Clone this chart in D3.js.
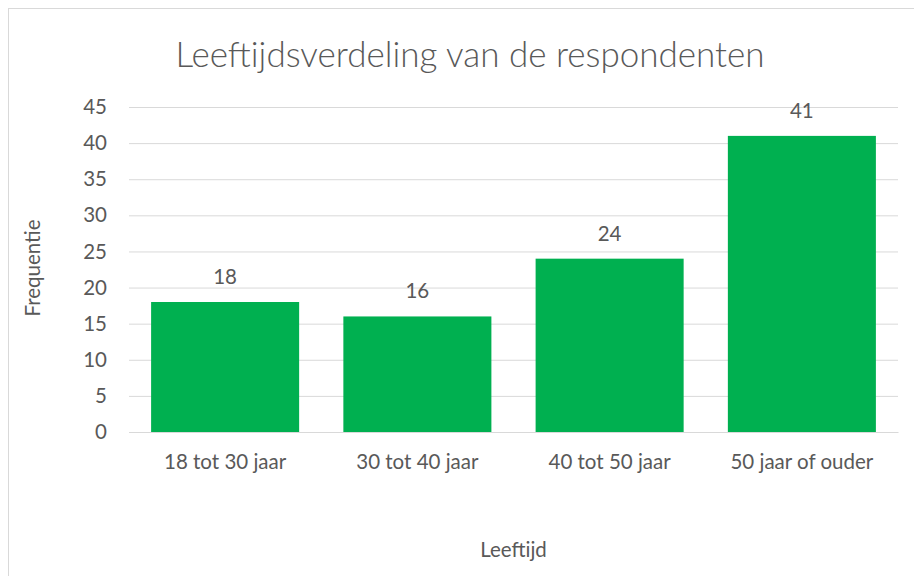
<!DOCTYPE html>
<html>
<head>
<meta charset="utf-8">
<script src="https://cdn.jsdelivr.net/npm/d3@7"></script>
<style>
  body { margin: 0; background: #fff; }
  svg { display: block; }
</style>
</head>
<body>
<svg id="chart" width="914" height="576"></svg>
<script>
// chart data
const categories = ["18 tot 30 jaar", "30 tot 40 jaar", "40 tot 50 jaar", "50 jaar of ouder"];
const frequencies = [18, 16, 24, 41];
const yTicks = [0, 5, 10, 15, 20, 25, 30, 35, 40, 45];

const font = "Lato, 'Open Sans', sans-serif";
const textColor = "#595959";
const labelSize = "20.5px";

const svg = d3.select("#chart");

// outer chart border (runs off the right and bottom edge)
svg.append("rect")
  .attr("x", 8.5)
  .attr("y", 8.5)
  .attr("width", 920)
  .attr("height", 580)
  .attr("fill", "#fff")
  .attr("stroke", "#d9d9d9")
  .attr("stroke-width", 1);

const margin = { top: 107, left: 129, right: 16, bottom: 144 };
const width = 914 - margin.left - margin.right;
const height = 576 - margin.top - margin.bottom;

const g = svg.append("g")
  .attr("transform", `translate(${margin.left},${margin.top})`);

const x = d3.scaleBand()
  .domain(categories)
  .range([0, width])
  .paddingInner(0.23)
  .paddingOuter(0.115);

const y = d3.scaleLinear()
  .domain([0, 45])
  .range([height, 0]);

// grid lines
g.append("g")
  .call(d3.axisLeft(y).tickValues(yTicks).tickSize(-width).tickFormat(""))
  .call((a) => a.select(".domain").remove())
  .call((a) => a.selectAll(".tick line").attr("stroke", "#d9d9d9").attr("stroke-width", 1));

// y tick labels
g.append("g")
  .call(d3.axisLeft(y).tickValues(yTicks).tickSize(0).tickPadding(22))
  .call((a) => a.select(".domain").remove())
  .call((a) => a.selectAll(".tick text")
    .attr("fill", textColor)
    .style("font-family", font)
    .style("font-size", labelSize));

// bars
g.selectAll(".bar")
  .data(frequencies)
  .enter()
  .append("rect")
  .attr("class", "bar")
  .attr("x", (d, i) => x(categories[i]))
  .attr("y", (d) => y(d))
  .attr("width", x.bandwidth())
  .attr("height", (d) => height - y(d))
  .attr("fill", "#00b050");

// data labels
g.selectAll(".value")
  .data(frequencies)
  .enter()
  .append("text")
  .attr("class", "value")
  .attr("x", (d, i) => x(categories[i]) + x.bandwidth() / 2)
  .attr("y", (d) => y(d) - 18)
  .attr("text-anchor", "middle")
  .attr("fill", textColor)
  .style("font-family", font)
  .style("font-size", labelSize)
  .text((d) => d);

// x axis line and labels
g.append("g")
  .attr("transform", `translate(0,${height})`)
  .call(d3.axisBottom(x).tickSize(0).tickPadding(22))
  .call((a) => a.select(".domain").attr("stroke", "#d9d9d9"))
  .call((a) => a.selectAll(".tick text")
    .attr("fill", textColor)
    .style("font-family", font)
    .style("font-size", labelSize));

// title
svg.append("text")
  .attr("x", 470)
  .attr("y", 67)
  .attr("text-anchor", "middle")
  .attr("fill", textColor)
  .style("font-family", font)
  .style("font-weight", "300")
  .style("font-size", "35px")
  .text("Leeftijdsverdeling van de respondenten");

// axis titles
svg.append("text")
  .attr("x", margin.left + width / 2)
  .attr("y", 557)
  .attr("text-anchor", "middle")
  .attr("fill", textColor)
  .style("font-family", font)
  .style("font-size", labelSize)
  .text("Leeftijd");

svg.append("text")
  .attr("transform", `translate(40,268) rotate(-90)`)
  .attr("text-anchor", "middle")
  .attr("fill", textColor)
  .style("font-family", font)
  .style("font-size", labelSize)
  .text("Frequentie");
</script>
</body>
</html>
